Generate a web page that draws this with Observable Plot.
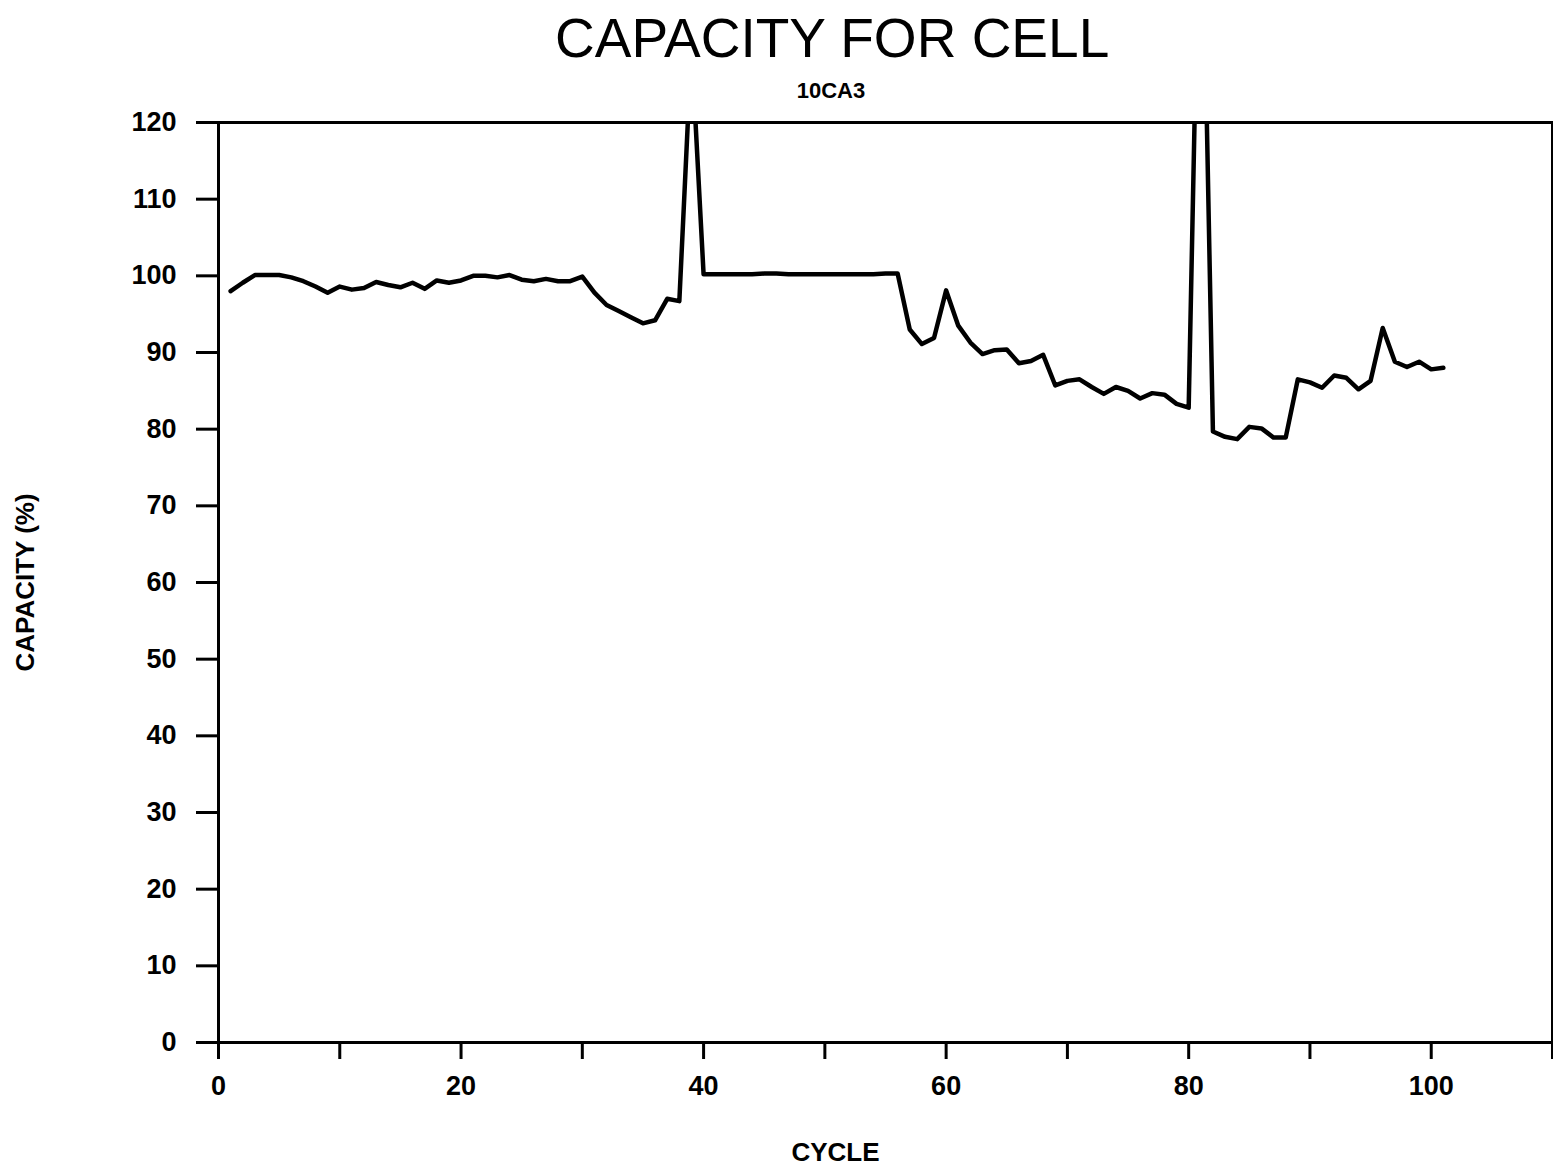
<!DOCTYPE html>
<html>
<head>
<meta charset="utf-8">
<script src="https://cdn.jsdelivr.net/npm/d3@7"></script>
<script src="https://cdn.jsdelivr.net/npm/@observablehq/plot@0.6"></script>
<style>
  html, body { margin: 0; padding: 0; background: #fff; }
  #wrap { position: relative; width: 1553px; height: 1169px; overflow: hidden; }
  #title { position: absolute; left: 555px; width: 553px; top: 6px; text-align: center;
    font-family: "Liberation Sans Narrow", "Liberation Sans", Arial, sans-serif; font-size: 55px;
    color: #000; white-space: nowrap; }
  #sub { position: absolute; left: 731px; width: 200px; top: 78px; text-align: center;
    font-family: "Liberation Sans", Arial, sans-serif; font-weight: bold; font-size: 22px;
    color: #000; }
  #chart { position: absolute; left: 0; top: 0; }
</style>
</head>
<body>
<div id="wrap">
  <div id="chart"></div>
  <div id="title"></div>
  <div id="sub"></div>
</div>
<script>
const cycles = d3.range(1, 102);
const capacity = [
  98.0, 99.1, 100.1, 100.1, 100.1, 99.8, 99.3, 98.6, 97.8, 98.6,
  98.2, 98.4, 99.2, 98.8, 98.5, 99.1, 98.3, 99.4, 99.1, 99.4,
  100.0, 100.0, 99.8, 100.1, 99.5, 99.3, 99.6, 99.3, 99.3, 99.9,
  97.8, 96.2, 95.4, 94.6, 93.8, 94.2, 97.0, 96.7, 130.0, 100.2,
  100.2, 100.2, 100.2, 100.2, 100.3, 100.3, 100.2, 100.2, 100.2, 100.2,
  100.2, 100.2, 100.2, 100.2, 100.3, 100.3, 93.0, 91.1, 91.9, 98.1,
  93.5, 91.3, 89.8, 90.3, 90.4, 88.6, 88.9, 89.7, 85.7, 86.3,
  86.5, 85.5, 84.6, 85.5, 85.0, 84.0, 84.7, 84.5, 83.3, 82.8,
  160.0, 79.7, 79.0, 78.7, 80.3, 80.1, 78.9, 78.9, 86.5, 86.1,
  85.4, 87.0, 86.7, 85.2, 86.3, 93.2, 88.8, 88.1, 88.8, 87.8,
  88.0
];
const xTicks = [0, 10, 20, 30, 40, 50, 60, 70, 80, 90, 100, 110];
const xLabels = [0, 20, 40, 60, 80, 100];
const yTicks = [0, 10, 20, 30, 40, 50, 60, 70, 80, 90, 100, 110, 120];
const title = "CAPACITY FOR CELL";
const subtitle = "10CA3";
const xTitle = "CYCLE";
const yTitle = "CAPACITY (%)";

const data = cycles.map((c, i) => ({cycle: c, capacity: capacity[i]}));

const chart = Plot.plot({
  width: 1553,
  height: 1169,
  marginLeft: 218,
  marginRight: 1,
  marginTop: 122,
  marginBottom: 127,
  style: {fontFamily: "'Liberation Sans', Arial, sans-serif", fontSize: "27px", fontWeight: "bold", color: "#000", background: "#fff"},
  x: {domain: [0, 110]},
  y: {domain: [0, 120]},
  marks: [
    Plot.axisX({ticks: xTicks, tickSize: 17, tickPadding: 16, strokeWidth: 3,
      tickFormat: d => xLabels.includes(d) ? String(d) : "",
      label: null, fontSize: 27}),
    Plot.axisY({ticks: yTicks, tickSize: 22, tickPadding: 20, strokeWidth: 3,
      label: null, fontSize: 27}),
    Plot.text([xTitle], {text: d => d, frameAnchor: "bottom", textAnchor: "middle", lineAnchor: "middle", dx: -50, dy: 110, fontSize: 26, fontWeight: "bold"}),
    Plot.text([yTitle], {text: d => d, frameAnchor: "left", textAnchor: "middle", lineAnchor: "middle", dx: -193, rotate: -90, fontSize: 26, fontWeight: "bold"}),
    Plot.frame({stroke: "#000", strokeWidth: 3}),
    Plot.line(data, {x: "cycle", y: "capacity", stroke: "#000", strokeWidth: 4.5, clip: true, strokeLinejoin: "round"})
  ]
});
document.getElementById("chart").appendChild(chart);
document.getElementById("title").textContent = title;
document.getElementById("sub").textContent = subtitle;
</script>
</body>
</html>
